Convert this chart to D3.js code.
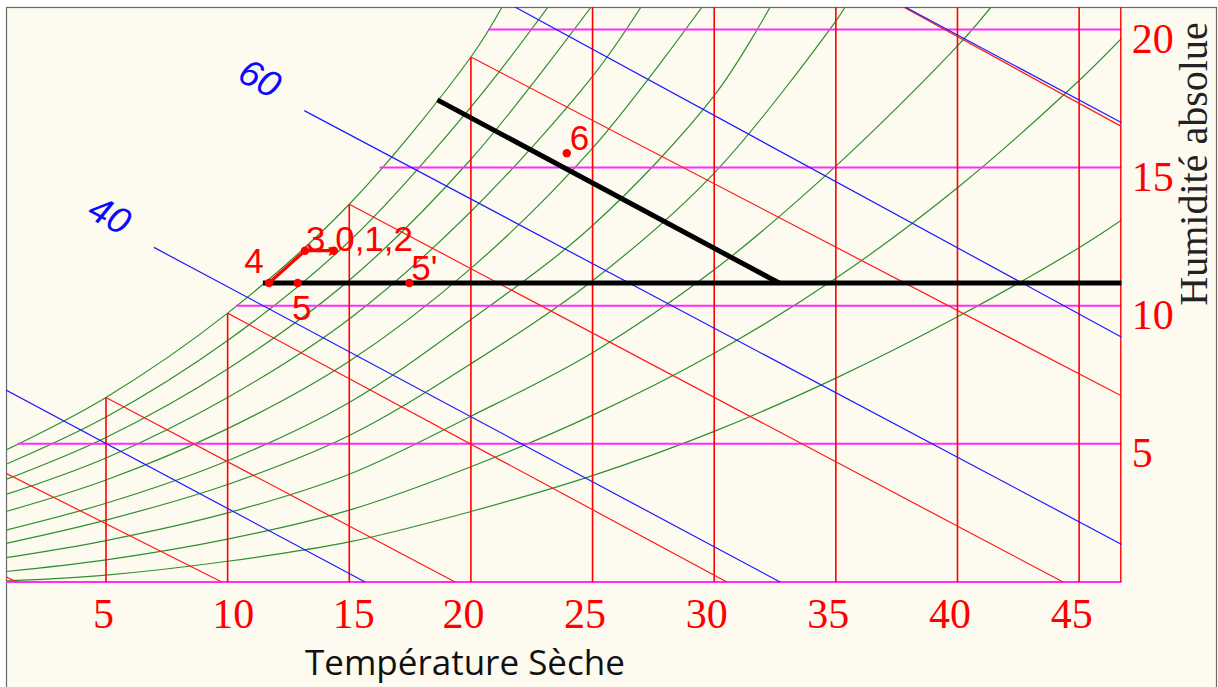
<!DOCTYPE html>
<html><head><meta charset="utf-8">
<script src="https://cdn.jsdelivr.net/npm/d3@7"></script>
<style>
html,body{margin:0;padding:0;background:#fff;}
svg{display:block;}
</style></head><body>
<svg id="chart" width="1218" height="687"></svg>
<script>
// ---------------- data ----------------
const xTicks = [5, 10, 15, 20, 25, 30, 35, 40, 45];
const yTicks = [5, 10, 15, 20];
const xTitle = "Température Sèche";
const yTitle = "Humidité absolue";

// green humidity curves, [temperature, humidity] pairs, top (saturation) to bottom
const sat100 = [[0.89,4.78],[5,6.68],[10,9.73],[15,13.67],[20,19.0],[21.28,20.81]];
const rh90  = [[0.89,4.26],[5,5.97],[10,8.74],[15,12.33],[20,17.19],[23.17,20.81]];
const rh80  = [[0.89,3.71],[5,5.23],[10,7.71],[15,10.92],[20,15.3],[24.94,20.81]];
const rh70  = [[0.89,3.17],[5,4.49],[10,6.68],[15,9.52],[20,13.41],[25,18.3],[26.99,20.81]];
const rh60  = [[0.89,2.55],[5,3.69],[10,5.55],[15,7.99],[20,11.35],[25,15.7],[29.5,20.81]];
const rh50  = [[0.89,1.88],[5,2.85],[10,4.39],[15,6.5],[20,9.5],[25,12.9],[30,17.6],[32.3,20.81]];
const rh40  = [[0.89,1.40],[5,2.24],[10,3.53],[15,5.3],[20,7.9],[25,10.9],[30,14.8],[35,20.3],[35.38,20.81]];
const rh30  = [[0.89,0.88],[5,1.50],[10,2.50],[15,3.9],[20,6.0],[25,8.3],[30,11.3],[35,15.05],[40,19.4],[41.38,20.81]];
const rh20  = [[0.89,0.38],[5,0.8],[10,1.55],[15,2.6],[20,4.17],[25,6.04],[30,8.28],[35,10.99],[40,14.27],[45,18.15],[46.75,19.68]];
const rh10  = [[0.89,0.04],[5,0.25],[10,0.75],[15,1.45],[20,2.55],[25,3.85],[30,5.45],[35,7.38],[40,9.6],[45,12.1],[46.75,13.1]];

// red wet-bulb lines [T1, w1, T2, w2]
const wetBulbLines = [
  [0.89,0.19, 1.33,0],
  [0.89,3.93, 9.76,0],
  [5,6.68, 19.35,0],
  [10,9.73, 30.52,0],
  [15,13.67, 44.34,0],
  [20,19.0, 46.75,6.73],
  [37.78,20.81, 46.75,16.48]
];
// blue enthalpy lines [T1, w1, T2, w2] and their labels
const enthalpyLines = [
  [0.89,6.95, 15.65,0],
  [6.97,12.11, 32.71,0],
  [13.15,17.06, 46.75,1.36],
  [21.81,20.81, 46.75,8.86],
  [37.85,20.81, 46.75,16.62]
];
const enthalpyLabels = ["", "40", "60", "", ""];

// process points
const pointNames = ["4", "5", "3", "0,1,2", "5'", "6"];
const pointT     = [11.70, 12.88, 13.18, 14.37, 17.47, 23.94];
const pointW     = [10.82, 10.82, 11.99, 11.99, 10.82, 15.52];
const pointLabels = ["4", "5", "3,0,1,2", "", "5'", "6"];
const redPath = ["4", "3", "0,1,2"];
// black process lines [T1, w1, T2, w2]
const blackLines = [
  [11.45,10.82, 46.75,10.82],
  [18.62,17.45, 32.67,10.82]
];

// ---------------- drawing ----------------
const svg = d3.select("#chart");
const plot = {left: 6, right: 1121.7, top: 7, bottom: 582};
const x = d3.scaleLinear().domain([0.89, 46.75]).range([plot.left, plot.right]);
const y = d3.scaleLinear().domain([0, 20.81]).range([plot.bottom, plot.top]);
const Tmin = x.domain()[0], Tmax = x.domain()[1], Wtop = y.domain()[1];

svg.append("rect").attr("x",0).attr("y",0).attr("width",1218).attr("height",687).attr("fill","#fff");
svg.append("rect").attr("x",6.5).attr("y",7.5).attr("width",1210).attr("height",690)
   .attr("fill","#fdfbf0").attr("stroke","#6a6a6a").attr("stroke-width",1.2);

svg.append("defs").append("clipPath").attr("id","clip").append("rect")
   .attr("x",plot.left).attr("y",plot.top).attr("width",plot.right-plot.left).attr("height",plot.bottom-plot.top+2);

const g = svg.append("g").attr("clip-path","url(#clip)");

function interp(arr, T){
  for (let i=0;i<arr.length-1;i++){
    const a=arr[i], b=arr[i+1];
    if (T>=a[0] && T<=b[0]) return a[1]+(b[1]-a[1])*(T-a[0])/(b[0]-a[0]);
  }
  return null;
}
function invInterp(arr, w){
  for (let i=0;i<arr.length-1;i++){
    const a=arr[i], b=arr[i+1];
    if (w>=a[1] && w<=b[1]) return a[0]+(b[0]-a[0])*(w-a[1])/(b[1]-a[1]);
  }
  return Tmin;
}

// green curves
const rhCurves = [sat100, rh90, rh80, rh70, rh60, rh50, rh40, rh30, rh20, rh10];
const lineGen = d3.line().x(d=>x(d[0])).y(d=>y(d[1])).curve(d3.curveCatmullRom.alpha(0.5));
g.selectAll("path.rh").data(rhCurves).enter().append("path").attr("class","rh")
  .attr("d", lineGen).attr("fill","none").attr("stroke","#2f8f2f").attr("stroke-width",1.2);

// magenta horizontal grid (from saturation curve to right edge) + bottom line
const hLines = [0].concat(yTicks).map(w => ({w, t0: w===0 ? Tmin : invInterp(sat100, w)}));
g.selectAll("line.h").data(hLines).enter().append("line").attr("class","h")
  .attr("x1",d=>x(d.t0)).attr("x2",x(Tmax)).attr("y1",d=>y(d.w)).attr("y2",d=>y(d.w))
  .attr("stroke","#ff2bff").attr("stroke-width",2);

// red vertical lines (from bottom to saturation curve)
g.selectAll("line.v").data(xTicks).enter().append("line").attr("class","v")
  .attr("x1",d=>x(d)).attr("x2",d=>x(d)).attr("y1",y(0))
  .attr("y2",d=>{ const s = interp(sat100,d); return y(s===null ? Wtop : s); })
  .attr("stroke","#ff0000").attr("stroke-width",1.6);
g.append("line").attr("x1",x(Tmax)-0.8).attr("x2",x(Tmax)-0.8).attr("y1",y(0)).attr("y2",y(Wtop))
  .attr("stroke","#ff0000").attr("stroke-width",1.6);

// red wet-bulb lines
g.selectAll("line.wb").data(wetBulbLines).enter().append("line").attr("class","wb")
  .attr("x1",d=>x(d[0])).attr("y1",d=>y(d[1])).attr("x2",d=>x(d[2])).attr("y2",d=>y(d[3]))
  .attr("stroke","#ff1a1a").attr("stroke-width",1.2);

// blue enthalpy lines
g.selectAll("line.en").data(enthalpyLines).enter().append("line").attr("class","en")
  .attr("x1",d=>x(d[0])).attr("y1",d=>y(d[1])).attr("x2",d=>x(d[2])).attr("y2",d=>y(d[3]))
  .attr("stroke","#1a1aff").attr("stroke-width",1.2);

// black process lines
g.selectAll("line.blk").data(blackLines).enter().append("line").attr("class","blk")
  .attr("x1",d=>x(d[0])).attr("y1",d=>y(d[1])).attr("x2",d=>x(d[2])).attr("y2",d=>y(d[3]))
  .attr("stroke","#000").attr("stroke-width",5);

// red process path
const pts = pointNames.map((n,i)=>({name:n, T:pointT[i], w:pointW[i], label:pointLabels[i]}));
const byName = Object.fromEntries(pts.map(p=>[p.name,p]));
svg.append("path").datum(redPath.map(n=>byName[n]))
  .attr("d", d3.line().x(d=>x(d.T)).y(d=>y(d.w)))
  .attr("fill","none").attr("stroke","#ff0000").attr("stroke-width",3.2).attr("stroke-linejoin","round");

svg.selectAll("circle.pt").data(pts).enter().append("circle").attr("class","pt")
  .attr("cx",d=>x(d.T)).attr("cy",d=>y(d.w)).attr("r",4.2).attr("fill","#ff0000");

const labelOffset = {"4":[-15,-10,"middle"], "5":[4,37,"middle"], "3":[1,0,"start"], "5'":[2,-3,"start"], "6":[3,-3,"start"]};
svg.selectAll("text.pl").data(pts.filter(p=>p.label)).enter().append("text").attr("class","pl")
  .attr("x",d=>x(d.T)+labelOffset[d.name][0]).attr("y",d=>y(d.w)+labelOffset[d.name][1])
  .attr("text-anchor",d=>labelOffset[d.name][2])
  .attr("font-family","'Liberation Sans', Arial, sans-serif").attr("font-size",35)
  .attr("fill","#ff0000").text(d=>d.label);

// enthalpy labels
const enLab = enthalpyLines.map((l,i)=>({l, t:enthalpyLabels[i]})).filter(d=>d.t);
svg.selectAll("text.en").data(enLab).enter().append("text").attr("class","en")
  .attr("transform",d=>`translate(${x(d.l[0])-44},${y(d.l[1])-33}) rotate(28)`)
  .attr("text-anchor","middle").attr("dy","0.36em")
  .attr("font-family","'Liberation Sans', Arial, sans-serif").attr("font-style","italic")
  .attr("font-size",37).attr("fill","#0a0aff").text(d=>d.t);

// axes (tick labels only)
const tickShift = {5:-3, 10:5, 15:4};
const xAxis = svg.append("g").attr("transform",`translate(0,${plot.bottom})`)
  .call(d3.axisBottom(x).tickValues(xTicks).tickSize(0).tickFormat(d3.format("d")));
xAxis.select(".domain").remove();
xAxis.selectAll("text").attr("y",45.5).attr("dy",0).attr("dx",d=> (d in tickShift ? tickShift[d] : -8))
  .attr("font-family","'Liberation Serif', 'Times New Roman', serif").attr("font-size",42).attr("fill","#ff0000");

const yAxis = svg.append("g").attr("transform",`translate(${plot.right},0)`)
  .call(d3.axisRight(y).tickValues(yTicks).tickSize(0).tickFormat(d3.format("d")));
yAxis.select(".domain").remove();
yAxis.selectAll("text").attr("x",10).attr("dy","0.55em")
  .attr("font-family","'Liberation Serif', 'Times New Roman', serif").attr("font-size",42).attr("fill","#ff0000");

// titles
svg.append("text").attr("x",305).attr("y",675)
  .attr("font-family","'Open Sans', 'Noto Sans', sans-serif").attr("font-size",35).attr("fill","#111")
  .text(xTitle);
svg.append("text").attr("transform","translate(1207,164) rotate(-90)").attr("text-anchor","middle")
  .attr("font-family","'Liberation Serif', 'Times New Roman', serif").attr("font-size",40).attr("fill","#222")
  .text(yTitle);
</script>
</body></html>
